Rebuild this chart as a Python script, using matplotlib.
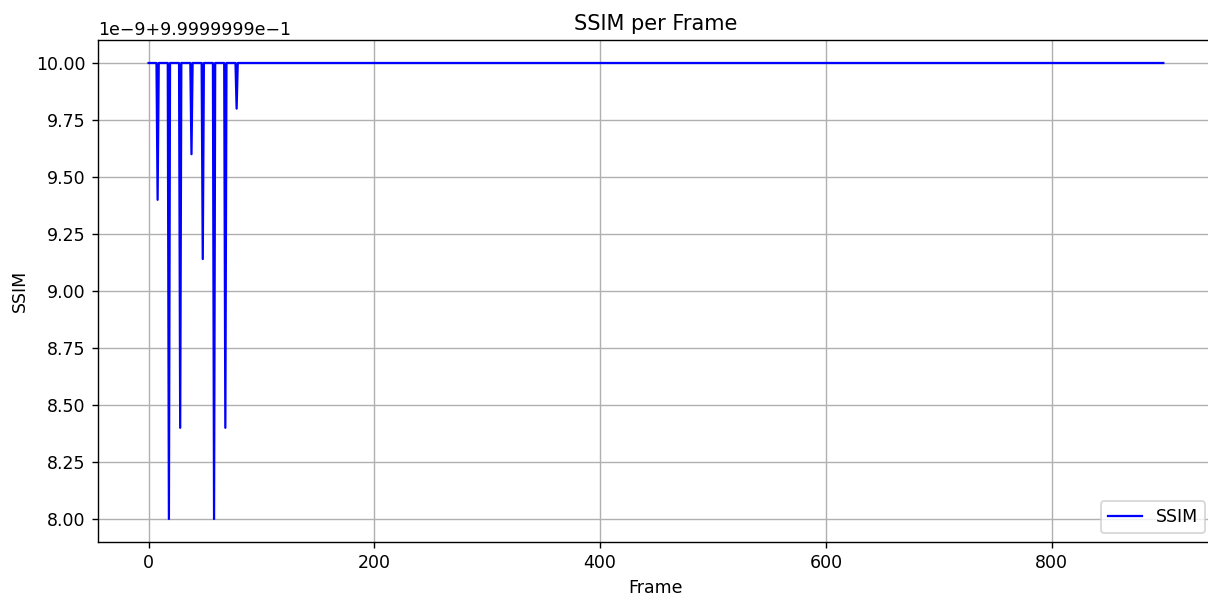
import matplotlib
matplotlib.use('Agg')
import matplotlib.pyplot as plt
import numpy as np

n_frames = 900
dip_frames = [8, 18, 28, 38, 48, 58, 68, 78]
# dip depths in units of 1e-9 above 0.99999999
dip_values = [9.4, 8.0, 8.4, 9.6, 9.14, 8.0, 8.4, 9.8]

frames = np.arange(n_frames)
ssim = np.ones(n_frames)
for f, v in zip(dip_frames, dip_values):
    ssim[f] = 0.99999999 + v * 1e-9

fig, ax = plt.subplots(figsize=(9.664, 4.8), dpi=125)
fig.subplots_adjust(left=0.081, right=1.005, top=0.933, bottom=0.097)
ax.plot(frames, ssim, color='blue', linewidth=1.3, label='SSIM')
ax.set_title('SSIM per Frame')
ax.set_xlabel('Frame')
ax.set_ylabel('SSIM')
ax.grid(True)
ax.legend(loc='lower right')
fig.savefig('out.png')
